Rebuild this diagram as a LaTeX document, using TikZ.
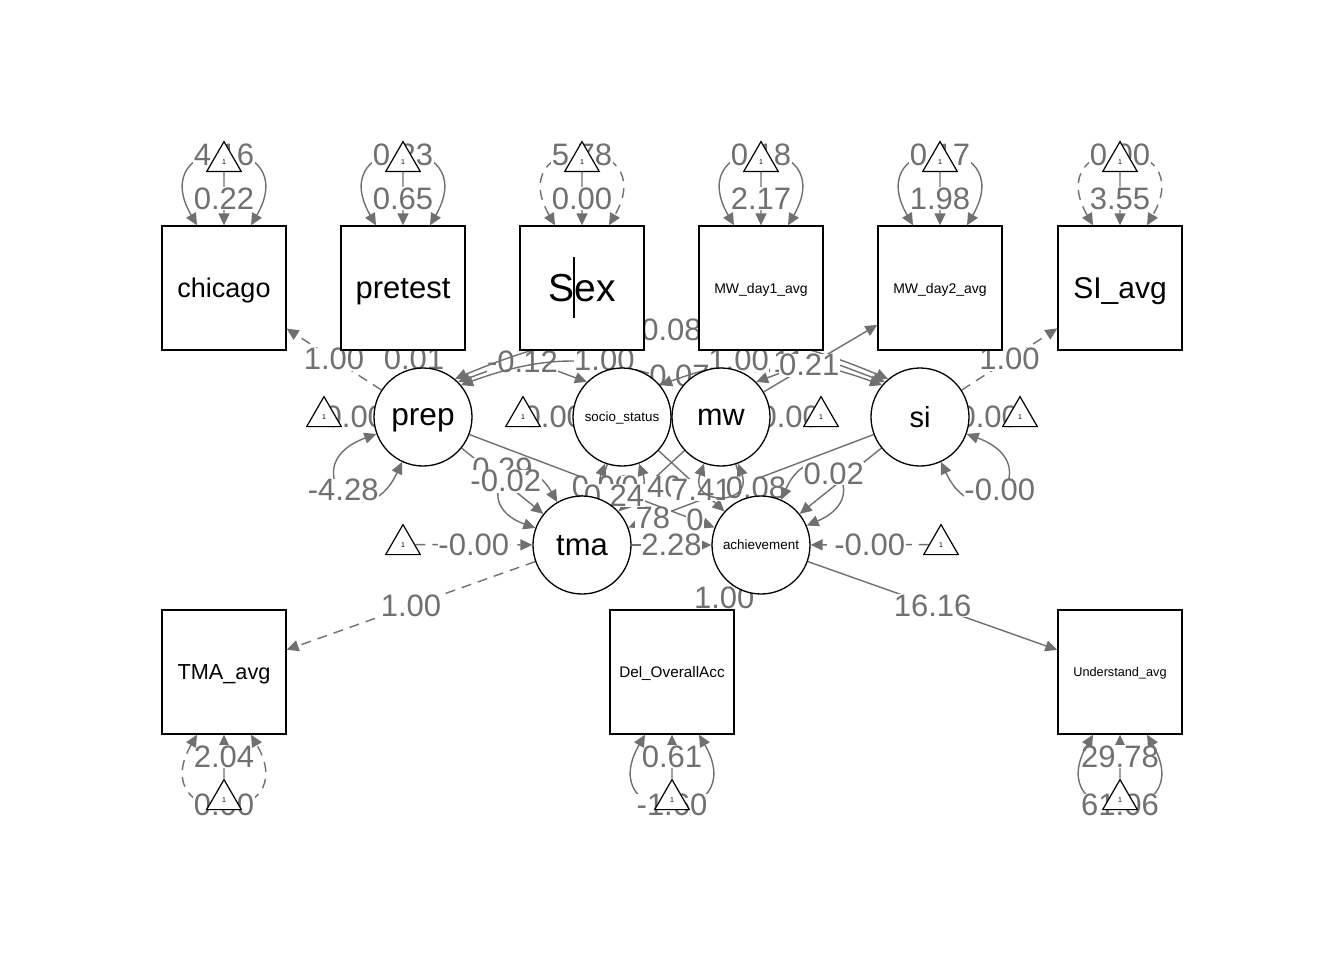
\documentclass[tikz,border=0pt]{standalone}
\usepackage{fontspec}
\setmainfont{Liberation Sans}
\usetikzlibrary{arrows.meta, shapes.geometric, backgrounds}
\definecolor{edgegray}{RGB}{112,112,112}
\newcommand{\fs}[1]{\fontsize{#1}{#1}\selectfont}
\tikzset{
  manifest/.style={rectangle, draw=black, line width=1.3pt, fill=white,
    minimum size=124pt, inner sep=0pt, text depth=0pt},
  latent/.style={circle, draw=black, line width=1.3pt, fill=white,
    minimum size=98pt, inner sep=0pt, text depth=0pt},
  unit/.style={regular polygon, regular polygon sides=3, draw=black,
    line width=1.2pt, fill=white, minimum size=40pt, inner sep=0pt,
    font=\fs{7}},
  arr/.style={draw=edgegray, line width=1.4pt, -{Triangle[length=12pt,width=11pt]}},
  farr/.style={arr, dash pattern=on 10pt off 7pt},
  cov/.style={draw=edgegray, line width=1.4pt,
    {Triangle[length=12pt,width=11pt]}-{Triangle[length=12pt,width=11pt]}},
  fcov/.style={cov, dash pattern=on 10pt off 7pt},
  lbl/.style={fill=white, inner sep=0.5pt, text=edgegray, font=\fs{31}}
}
\begin{document}
\begin{tikzpicture}[x=1pt, y=1pt]
  \useasboundingbox (0,0) rectangle (1344,-960);

  %% -- observed variables -------------------------------------
  \node[manifest, font=\fs{27}]   (chicago) at (224,-288)  {chicago};
  \node[manifest, font=\fs{31}]   (pretest) at (403,-288)  {pretest};
  \node[manifest, font=\fs{39}]   (sex)     at (582,-288)  {Sex};
  \node[manifest, font=\fs{14}]   (mwa)     at (761,-288)  {MW\_day1\_avg};
  \node[manifest, font=\fs{14}]   (mwb)     at (940,-288)  {MW\_day2\_avg};
  \node[manifest, font=\fs{30}]   (siavg)   at (1120,-288) {SI\_avg};
  \node[manifest, font=\fs{21.7}] (tmaavg)  at (224,-672)  {TMA\_avg};
  \node[manifest, font=\fs{15.3}] (delacc)  at (672,-672)  {Del\_OverallAcc};
  \node[manifest, font=\fs{12.7}] (undavg)  at (1120,-672) {Understand\_avg};
  \draw[black, line width=1.5pt] (574,-257) -- (574,-318);

  %% -- latent variables ---------------------------------------
  \node[latent, font=\fs{31.6}] (prep)  at (423,-417) {prep};
  \node[latent, font=\fs{13.4}] (socio) at (622,-417) {socio\_status};
  \node[latent, font=\fs{30.6}] (mw)    at (721,-417) {mw};
  \node[latent, font=\fs{29}]   (si)    at (920,-417) {si};
  \node[latent, font=\fs{31}]   (tma)   at (582,-545) {tma};
  \node[latent, font=\fs{13.4}] (ach)   at (761,-545) {achievement};

  %% -- intercept triangles ------------------------------------
  \foreach \b/\x in {chicago/224, pretest/403, sex/582, mwa/761, mwb/940, siavg/1120}
    \node[unit] (t\b) at (\x,-161.6) {1};
  \foreach \b/\x in {tmaavg/224, delacc/672, undavg/1120}
    \node[unit] (t\b) at (\x,-799.6) {1};
  \node[unit] (tprep)  at (324,-416.6) {1};
  \node[unit] (tsocio) at (523,-416.6) {1};
  \node[unit] (tmw)    at (821,-416.6) {1};
  \node[unit] (tsi)    at (1020,-416.6) {1};
  \node[unit] (ttma)   at (403,-544.6) {1};
  \node[unit] (tach)   at (941,-544.6) {1};

  \begin{scope}[on background layer]
    \fill[white] (0,0) rectangle (1344,-960);

    %% covariances
    \draw[cov] (prep.45) .. controls +(20:78pt) and +(160:78pt) .. (socio.135)
      node[lbl, pos=0.5] {-0.12};
    \draw[cov] (prep.40) .. controls +(20:90pt) and +(160:90pt) .. (mw.140);
    \draw[cov] (prep.50) .. controls +(23:167pt) and +(157:167pt) .. (si.130)
      node[lbl, pos=0.5] {0.08};
    \draw[cov] (socio.45) .. controls +(60:20pt) and +(120:20pt) .. (mw.135)
      node[lbl, pos=0.5, xshift=8pt, yshift=-7pt] {0.07};
    \draw[cov] (socio.40) .. controls +(20:90pt) and +(160:90pt) .. (si.140)
      node[lbl, pos=0.5] {-0.11};
    \draw[cov] (mw.45) .. controls +(20:78pt) and +(160:78pt) .. (si.135);

    %% loadings
    \draw[farr] (prep)  -- (chicago) node[lbl, midway] {1.00};
    \draw[arr]  (prep)  -- (pretest) node[lbl, midway] {0.01};
    \draw[farr] (socio) -- (sex)     node[lbl, midway] {1.00};
    \draw[farr] (mw)    -- (mwa)     node[lbl, midway] {1.00};
    \draw[arr]  (mw)    -- (mwb)     node[lbl, pos=0.4] {0.21};
    \draw[farr] (si)    -- (siavg)   node[lbl, midway] {1.00};
    \draw[farr] (tma)   -- (tmaavg)  node[lbl, midway] {1.00};
    \draw[farr] (ach)   -- (delacc)  node[lbl, midway] {1.00};
    \draw[arr]  (ach)   -- (undavg)  node[lbl, midway] {16.16};

    %% regressions
    \draw[arr] (prep)  -- (tma) node[lbl, midway, yshift=12pt] {0.29};
    \draw[arr] (prep)  -- (ach) node[lbl, pos=0.92] {0};
    \draw[arr] (si)    -- (tma) node[lbl, pos=0.9] {78};
    \draw[arr] (si)    -- (ach);
    \draw[arr] (socio) -- (tma) node[lbl, midway, yshift=-6pt] {0.00};
    \draw[arr] (mw)    -- (tma) node[lbl, midway, yshift=-6pt] {0.40};
    \draw[arr] (socio) -- (ach) node[lbl, pos=0.65] {7.41};
    \draw[arr] (mw)    -- (ach) node[lbl, pos=0.6, xshift=14pt, yshift=-4pt] {0.08};
    \draw[arr] (tma)   -- (ach) node[lbl, midway] {2.28};

    %% residual variances of latents
    \draw[cov] (socio.250) .. controls +(250:45pt) and +(290:45pt) .. (socio.290)
      node[lbl, pos=0.5, xshift=-8pt] {0.24};
    \draw[cov] (mw.250) .. controls +(250:45pt) and +(290:45pt) .. (mw.290);
    \draw[cov] (prep.200) .. controls +(200:90pt) and +(245:90pt) .. (prep.245)
      node[lbl, pos=0.5] {-4.28};
    \draw[cov] (si.340) .. controls +(340:90pt) and +(295:90pt) .. (si.295)
      node[lbl, pos=0.5] {-0.00};
    \draw[cov] (tma.160) .. controls +(160:75pt) and +(120:75pt) .. (tma.120)
      node[lbl, pos=0.5] {-0.02};
    \draw[cov] (ach.23) .. controls +(23:80pt) and +(66:80pt) .. (ach.66)
      node[lbl, pos=0.5] {0.02};

    %% means of latents
    \draw[farr] (tprep)  -- (prep)  node[lbl, midway] {0.00};
    \draw[farr] (tsocio) -- (socio) node[lbl, midway] {0.00};
    \draw[farr] (tmw)    -- (mw)    node[lbl, midway] {0.00};
    \draw[farr] (tsi)    -- (si)    node[lbl, midway] {0.00};
    \draw[farr] (ttma)   -- (tma)   node[lbl, midway] {-0.00};
    \draw[farr] (tach)   -- (ach)   node[lbl, midway] {-0.00};

    %% means and variances of observed variables
    \foreach \b/\m/\v/\ls in {chicago/0.22/4.16/cov, pretest/0.65/0.23/cov,
        sex/0.00/5.78/fcov, mwa/2.17/0.18/cov, mwb/1.98/0.17/cov, siavg/3.55/0.00/fcov}{
      \draw[arr] (t\b.south) -- (\b) node[lbl, midway] {\m};
      \draw[\ls] ([xshift=-27pt]\b.north) .. controls +(-54pt,94pt) and +(54pt,94pt)
        .. ([xshift=27pt]\b.north) node[lbl, pos=0.5] {\v};
    }
    \foreach \b/\m/\v/\ls in {tmaavg/2.04/0.00/fcov, delacc/0.61/-1.60/cov,
        undavg/29.78/61.06/cov}{
      \draw[arr] (t\b.north) -- (\b) node[lbl, midway] {\m};
      \draw[\ls] ([xshift=-27pt]\b.south) .. controls +(-54pt,-94pt) and +(54pt,-94pt)
        .. ([xshift=27pt]\b.south) node[lbl, pos=0.5] {\v};
    }
  \end{scope}
\end{tikzpicture}
\end{document}
